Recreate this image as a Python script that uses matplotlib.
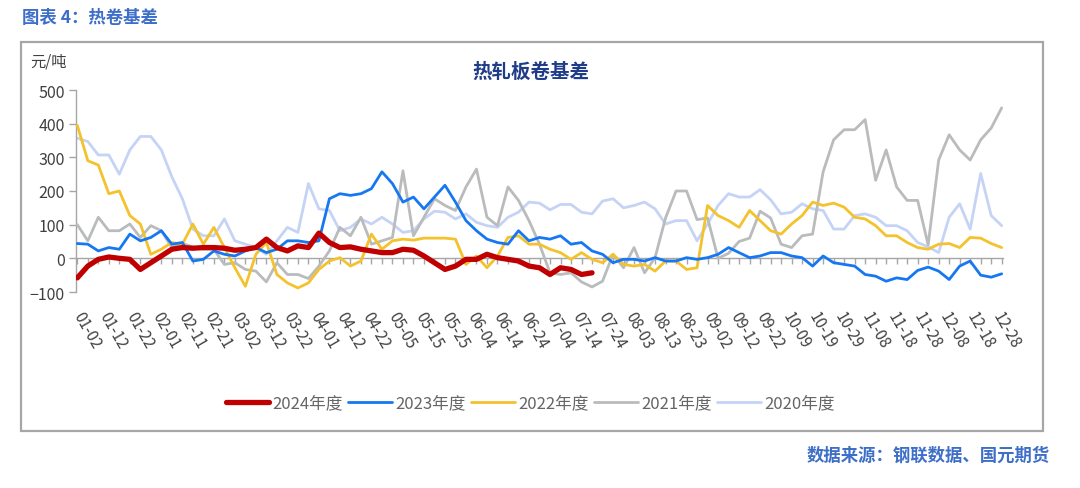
import numpy as np
import matplotlib
matplotlib.use("Agg")
import matplotlib.pyplot as plt
from matplotlib.patches import Rectangle

plt.rcParams['font.family'] = ['Noto Sans CJK SC', 'DejaVu Sans']

# ---------------- data ----------------
tick_labels = ["01-02", "01-12", "01-22", "02-01", "02-11", "02-21", "03-02", "03-12",
               "03-22", "04-01", "04-12", "04-22", "05-05", "05-15", "05-25", "06-04",
               "06-14", "06-24", "07-04", "07-14", "07-24", "08-03", "08-13", "08-23",
               "09-02", "09-12", "09-22", "10-09", "10-19", "10-29", "11-08", "11-18",
               "11-28", "12-08", "12-18", "12-28"]
label_step = 10      # one label every 10 points
sample_step = 4      # values below are read every 4 points
n_points = 353

series_names = ["2024年度", "2023年度", "2022年度", "2021年度", "2020年度"]

v2024 = [-58, -23, -3, 4, 0, -3, -33, -13, 7, 27, 32, 30, 32, 32, 30, 24, 27, 32, 57, 32,
         22, 37, 32, 75, 47, 32, 34, 27, 22, 17, 17, 27, 24, 7, -13, -33, -23, -3, -3, 12,
         2, -3, -8, -23, -28, -48, -28, -33, -48, -43]

v2023 = [44, 42, 22, 32, 27, 72, 52, 62, 82, 42, 47, -8, -3, 22, 12, 7, 22, 32, 17, 27, 52, 52,
         47, 52, 177, 192, 187, 192, 207, 257, 222, 167, 182, 147, 182, 217, 167, 112, 82, 57, 47, 42, 82, 52,
         62, 57, 67, 42, 47, 22, 12, -13, -3, -3, -8, 2, -8, -8, 2, -3, 2, 12, 32, 17, 2, 7,
         17, 17, 7, 2, -23, 7, -13, -18, -23, -48, -53, -68, -58, -63, -36, -26, -38, -63, -23, -8, -50, -56, -46]

v2022 = [395, 290, 277, 192, 200, 127, 102, 12, 27, 47, 42, 102, 42, 92, 32, -28, -83, 12, 47, -48, -73, -88,
         -73, -33, -8, 2, -23, -8, 72, 27, 52, 57, 54, 60, 60, 60, 57, -18, 7, -28, 7, 62, 67, 42,
         42, 27, 17, -3, 17, -3, -13, 12, -18, -23, -18, -38, -8, -8, -33, -28, 157, 127, 112, 92, 142, 112,
         82, 72, 102, 127, 167, 157, 164, 152, 122, 117, 97, 67, 67, 47, 32, 27, 42, 44, 32, 62, 60, 44, 32]

v2021 = [100, 52, 122, 82, 82, 102, 62, 97, 82, 32, 44, 34, 27, 27, -18, -13, -33, -38, -70, -13, -48, -48,
         -60, -23, 22, 92, 67, 122, 42, 52, 62, 260, 67, 122, 177, 157, 142, 212, 265, 122, 97, 212, 172, 112,
         42, -43, -48, -43, -70, -85, -68, 12, -28, 32, -43, 2, 120, 200, 200, 115, 120, 0, 15, 50, 60, 140,
         120, 42, 32, 67, 72, 257, 352, 382, 382, 412, 232, 322, 212, 172, 172, 40, 292, 367, 322, 292, 352, 387, 447]

v2020 = [357, 347, 307, 307, 250, 322, 362, 362, 322, 242, 177, 87, 67, 67, 117, 52, 42, 32, 12, 52, 92, 77,
         222, 147, 142, 82, 92, 117, 102, 122, 102, 77, 82, 117, 140, 137, 117, 132, 107, 97, 92, 122, 137, 167,
         164, 144, 160, 160, 137, 132, 170, 177, 150, 157, 167, 147, 102, 112, 112, 52, 102, 157, 192, 182, 182, 204,
         174, 132, 137, 162, 147, 142, 87, 87, 127, 132, 122, 97, 97, 82, 47, 34, 17, 122, 162, 87, 252, 127, 97]

colors = ["#C00000", "#1677F2", "#F3C22C", "#B9BBBD", "#C5D3F5"]
widths = [3.8, 2.0, 2.0, 2.0, 2.0]
all_values = [v2024, v2023, v2022, v2021, v2020]

# ---------------- figure ----------------
W, H = 1080, 489
fig = plt.figure(figsize=(W / 100, H / 100), dpi=100)

# outer frame
fig.patches.append(Rectangle((21 / W, 1 - 432 / H), 1022 / W, 389 / H, transform=fig.transFigure,
                             fill=False, edgecolor="#A6A6A6", linewidth=1.6))

fig.text(22 / W, 1 - 18 / H, "图表 4：热卷基差", color="#3E6FC8", fontsize=12.5,
         fontweight="bold", va="center", ha="left")
fig.text(1050 / W, 1 - 456 / H, "数据来源：钢联数据、国元期货", color="#3E6FC8", fontsize=12.5,
         fontweight="bold", va="center", ha="right")
fig.text(30 / W, 1 - 62 / H, "元/吨", color="#404040", fontsize=11, va="center", ha="left")
fig.text(531 / W, 1 - 72 / H, "热轧板卷基差", color="#1F3C88", fontsize=14,
         fontweight="bold", va="center", ha="center")

ax = fig.add_axes([76 / W, 1 - 293 / H, (1003 - 76) / W, (293 - 91) / H])

for vals, name, c, lw, z in zip(all_values, series_names, colors, widths, [6, 5, 4, 3, 2]):
    x = np.arange(len(vals)) * sample_step
    ax.plot(x, vals, color=c, lw=lw, label=name, zorder=z, solid_joinstyle="round",
            solid_capstyle="round")

ax.set_xlim(-0.5, n_points - 0.5)
ax.set_ylim(-100, 500)
ax.set_yticks(np.arange(-100, 501, 100))
ax.tick_params(axis="y", direction="out", length=5, width=1, color="#A6A6A6",
               labelsize=11.5, labelcolor="#404040", pad=3)
for s in ["top", "right", "bottom"]:
    ax.spines[s].set_visible(False)
ax.spines["left"].set_color("#A6A6A6")
ax.spines["left"].set_linewidth(1)

# labels at bottom of the axes
ax.set_xticks(np.arange(len(tick_labels)) * label_step)
ax.set_xticklabels(tick_labels, rotation=-60, ha="left", va="center",
                   rotation_mode="anchor", fontsize=11, color="#404040")
ax.tick_params(axis="x", length=0, pad=15)

# zero axis with small ticks
sec = ax.secondary_xaxis(100 / 600)
sec.set_xticks(np.arange(0, n_points, 4))
sec.set_xticklabels([])
sec.tick_params(axis="x", direction="out", length=4, width=1, color="#A6A6A6")
sec.spines["bottom"].set_color("#A6A6A6")
sec.spines["bottom"].set_linewidth(1)

leg = fig.legend(loc="center", bbox_to_anchor=(530 / W, 1 - 404 / H), ncol=5, frameon=False,
                 handlelength=2.6, handletextpad=0.2, columnspacing=0.35,
                 prop={"family": ["Noto Sans CJK SC", "DejaVu Sans"], "size": 12})
for t in leg.get_texts():
    t.set_color("#666666")

fig.savefig("out.png", dpi=100)
